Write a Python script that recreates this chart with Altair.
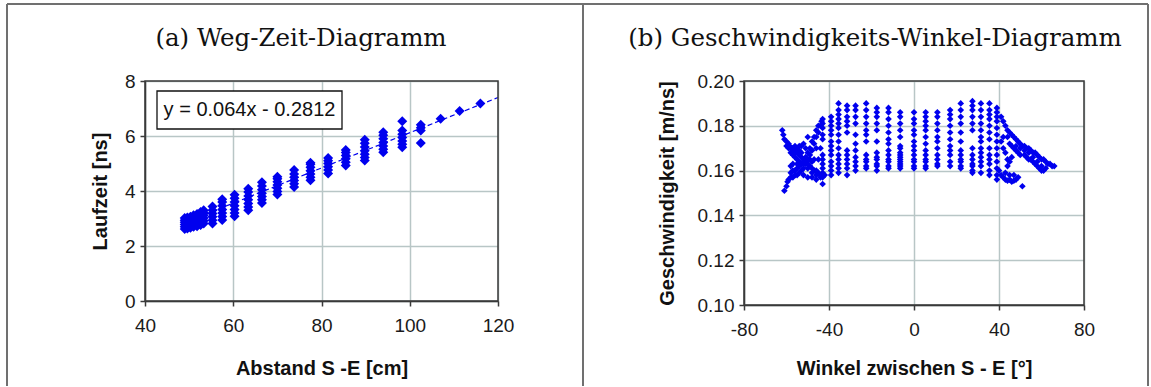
import altair as alt
import pandas as pd

# ---------------- Panel (a): Weg-Zeit-Diagramm ----------------
dist_a = [49.0, 49.6, 50.3, 51.0, 51.8, 52.6, 53.3, 55.3, 57.5, 60.3, 63.4, 66.5,
          70.0, 73.8, 77.5, 81.5, 85.5, 89.8, 94.0, 98.3, 102.5, 107.0, 111.3, 116.0]
times_a = [
    [2.62, 2.70, 2.78, 2.86, 2.94, 3.02],
    [2.64, 2.72, 2.80, 2.88, 2.96, 3.04],
    [2.66, 2.74, 2.82, 2.90, 2.98, 3.06],
    [2.70, 2.78, 2.86, 2.94, 3.02, 3.12],
    [2.72, 2.80, 2.90, 2.98, 3.08, 3.16],
    [2.76, 2.86, 2.96, 3.06, 3.16, 3.24],
    [2.82, 2.92, 3.02, 3.12, 3.22, 3.30],
    [2.82, 2.94, 3.06, 3.18, 3.30, 3.44],
    [2.95, 3.07, 3.20, 3.33, 3.46, 3.60, 3.70],
    [3.08, 3.20, 3.33, 3.46, 3.60, 3.74, 3.86],
    [3.30, 3.42, 3.55, 3.68, 3.82, 3.96, 4.08],
    [3.56, 3.68, 3.80, 3.92, 4.05, 4.18, 4.32],
    [3.87, 3.98, 4.10, 4.22, 4.34, 4.45, 4.52],
    [4.15, 4.26, 4.38, 4.50, 4.62, 4.76],
    [4.39, 4.50, 4.62, 4.74, 4.86, 4.97, 5.03],
    [4.64, 4.76, 4.88, 5.00, 5.10, 5.20],
    [4.93, 5.05, 5.17, 5.29, 5.40, 5.49],
    [5.11, 5.22, 5.34, 5.46, 5.60, 5.74, 5.86],
    [5.41, 5.52, 5.64, 5.76, 5.90, 6.03, 6.14],
    [5.59, 5.70, 5.82, 5.95, 6.06, 6.20, 6.54],
    [5.75, 6.20, 6.30, 6.41],
    [6.63],
    [6.91],
    [7.18],
]
trend_x = [48.5, 120.0]
trend_y = [2.82, 7.40]
equation = "y = 0.064x - 0.2812"

# ---------------- Panel (b): Geschwindigkeits-Winkel-Diagramm ----------------
ang_cols = [-43, -39, -35.5, -31.5, -27.5, -22.5, -17.5, -12, -6.5, 0,
            5.5, 11, 17, 22, 27.5, 31.5, 35.5, 39]
spd_cols = [
    [0.183, 0.181, 0.179, 0.176, 0.174, 0.167, 0.165, 0.163, 0.161, 0.159, 0.157, 0.154],
    [0.184, 0.182, 0.180, 0.178, 0.176, 0.173, 0.171, 0.169, 0.167, 0.164, 0.162, 0.160, 0.158],
    [0.190, 0.187, 0.185, 0.183, 0.181, 0.179, 0.176, 0.173, 0.170, 0.167, 0.165, 0.163, 0.161, 0.159],
    [0.189, 0.187, 0.184, 0.182, 0.180, 0.177, 0.169, 0.167, 0.165, 0.163, 0.161, 0.158],
    [0.189, 0.187, 0.184, 0.181, 0.176, 0.172, 0.169, 0.166, 0.164, 0.162, 0.160],
    [0.190, 0.187, 0.184, 0.181, 0.178, 0.176, 0.173, 0.167, 0.165, 0.164, 0.162, 0.161],
    [0.188, 0.186, 0.184, 0.181, 0.178, 0.173, 0.168, 0.166, 0.165, 0.163, 0.162, 0.160],
    [0.188, 0.186, 0.183, 0.180, 0.177, 0.174, 0.172, 0.169, 0.167, 0.165, 0.164, 0.162, 0.161],
    [0.186, 0.184, 0.181, 0.178, 0.175, 0.171, 0.170, 0.168, 0.167, 0.166, 0.165, 0.164, 0.163, 0.162, 0.161],
    [0.186, 0.183, 0.181, 0.178, 0.176, 0.173, 0.171, 0.169, 0.167, 0.165, 0.164, 0.162, 0.161],
    [0.186, 0.184, 0.182, 0.180, 0.178, 0.175, 0.172, 0.169, 0.167, 0.165, 0.164, 0.162, 0.161],
    [0.186, 0.184, 0.181, 0.178, 0.175, 0.173, 0.170, 0.167, 0.165, 0.163, 0.162],
    [0.187, 0.185, 0.183, 0.180, 0.177, 0.174, 0.171, 0.169, 0.167, 0.164, 0.162],
    [0.190, 0.187, 0.184, 0.181, 0.177, 0.173, 0.169, 0.167, 0.165, 0.164, 0.162, 0.161],
    [0.191, 0.189, 0.187, 0.184, 0.181, 0.178, 0.170, 0.167, 0.165, 0.163, 0.162, 0.160, 0.159],
    [0.190, 0.187, 0.184, 0.181, 0.178, 0.175, 0.173, 0.170, 0.168, 0.166, 0.164, 0.162, 0.159],
    [0.190, 0.187, 0.185, 0.183, 0.180, 0.177, 0.174, 0.170, 0.167, 0.165, 0.163, 0.160, 0.158],
    [0.188, 0.186, 0.184, 0.182, 0.179, 0.176, 0.173, 0.170, 0.167, 0.164, 0.161, 0.158, 0.156],
]
wing_l_ang = [-62, -61.5, -61, -60, -59, -58.5, -58, -57, -56.5, -56, -55, -54, -53, -52, -51, -50,
              -49, -48, -47, -46, -45, -44, -42,
              -60, -59, -58, -57, -56, -55, -54, -52, -50, -48, -46, -44, -56, -55, -54, -53,
              -61, -60, -59.5, -59, -58, -57, -56, -55, -54, -53, -52, -51, -50, -49, -48, -47,
              -46, -45, -44, -43.5,
              -58, -57, -56, -55, -54, -53, -52, -51, -50, -49, -48, -47, -46, -45,
              -52, -50, -48, -46,
              -55, -53, -51, -50, -49, -47, -48, -46, -45, -44, -52, -57, -58, -54]
wing_l_spd = [0.178, 0.176, 0.174, 0.173, 0.172, 0.171, 0.170, 0.170, 0.169, 0.168, 0.168, 0.167,
              0.166, 0.165, 0.164, 0.163, 0.162, 0.161, 0.160, 0.160, 0.159, 0.158, 0.158,
              0.171, 0.170, 0.168, 0.167, 0.166, 0.165, 0.164, 0.163, 0.161, 0.159, 0.158, 0.157,
              0.171, 0.170, 0.169, 0.168,
              0.151, 0.153, 0.155, 0.156, 0.157, 0.157, 0.158, 0.158, 0.159, 0.160, 0.161, 0.163,
              0.165, 0.167, 0.169, 0.172, 0.175, 0.177, 0.180, 0.182,
              0.159, 0.160, 0.160, 0.161, 0.162, 0.163, 0.164, 0.166, 0.168, 0.170, 0.173, 0.175,
              0.178, 0.180,
              0.158, 0.157, 0.157, 0.156,
              0.163, 0.171, 0.170, 0.175, 0.165, 0.165, 0.164, 0.170, 0.165, 0.170, 0.172,
              0.163, 0.162, 0.171]
wing_r_ang = [41, 42, 43, 44, 45, 46, 47, 48, 49, 50, 51, 52, 53, 54, 55, 56, 57, 58, 59, 60,
              61, 62, 63, 64, 65, 66,
              45, 46, 47, 48, 49, 50, 52, 53, 54, 55, 56, 57, 58, 59, 60, 61, 62, 60, 58, 56,
              54, 52, 50, 48,
              40, 41, 42, 43, 44, 45, 46, 47, 48, 49, 47, 45, 43, 51,
              44, 45, 46, 44, 43, 42, 41, 42, 44]
wing_r_spd = [0.184, 0.182, 0.180, 0.178, 0.177, 0.176, 0.175, 0.174, 0.173, 0.172, 0.171, 0.171,
              0.170, 0.170, 0.169, 0.168, 0.168, 0.167, 0.166, 0.165, 0.165, 0.164, 0.163, 0.163,
              0.162, 0.162,
              0.172, 0.171, 0.170, 0.169, 0.168, 0.167, 0.167, 0.166, 0.165, 0.165, 0.164, 0.163,
              0.162, 0.161, 0.160, 0.160, 0.161, 0.162, 0.164, 0.166, 0.168, 0.169, 0.170, 0.171,
              0.160, 0.158, 0.157, 0.156, 0.1555, 0.156, 0.155, 0.1555, 0.156, 0.157, 0.158,
              0.158, 0.159, 0.153,
              0.162, 0.164, 0.166, 0.165, 0.168, 0.170, 0.173, 0.175, 0.175]

# ---------------- build tables ----------------
rows_a = [{"abstand": d, "laufzeit": t} for d, ts in zip(dist_a, times_a) for t in ts]
df_a = pd.DataFrame(rows_a)
df_trend = pd.DataFrame({"abstand": trend_x, "laufzeit": trend_y})

rows_b = [{"winkel": a, "v": s} for a, ss in zip(ang_cols, spd_cols) for s in ss]
rows_b += [{"winkel": a, "v": s} for a, s in zip(wing_l_ang, wing_l_spd)]
rows_b += [{"winkel": a, "v": s} for a, s in zip(wing_r_ang, wing_r_spd)]
df_b = pd.DataFrame(rows_b)

one = pd.DataFrame({"k": [0]})

SANS = "Liberation Sans"
SERIF = "DejaVu Serif"
FRAME = "#3a3a3a"
BORDER = "#707070"
BLUE = "#0000ee"

W_A, H_A = 353, 220
W_B, H_B = 340, 224


def deco_rule(x, x2, y, y2, color=BORDER, width=2):
    return alt.Chart(one).mark_rule(color=color, strokeWidth=width, clip=False).encode(
        x=alt.value(x), x2=alt.value(x2), y=alt.value(y), y2=alt.value(y2))


def deco_text(txt, x, y, font, size, weight="normal", align="center", baseline="alphabetic"):
    return alt.Chart(one).mark_text(text=txt, font=font, fontSize=size, fontWeight=weight,
                                    align=align, baseline=baseline, color="#111111",
                                    clip=False).encode(x=alt.value(x), y=alt.value(y))


def frame_box(w, h):
    return alt.Chart(one).mark_rect(fillOpacity=0, stroke=FRAME, strokeWidth=1.5).encode(
        x=alt.value(0), x2=alt.value(w), y=alt.value(0), y2=alt.value(h))


# ---------------- panel (a) ----------------
xa = alt.X("abstand:Q", scale=alt.Scale(domain=[40, 120], nice=False, zero=False),
           axis=alt.Axis(values=[40, 60, 80, 100, 120], title="Abstand S -E [cm]",
                         titleY=67, titleBaseline="middle", labelExpr="'' + datum.value"))
ya = alt.Y("laufzeit:Q", scale=alt.Scale(domain=[0, 8], nice=False),
           axis=alt.Axis(values=[0, 2, 4, 6, 8], title="Laufzeit [ns]",
                         titleX=-45, titleBaseline="middle", labelExpr="'' + datum.value"))

pts_a = alt.Chart(df_a).mark_point(shape="diamond", filled=True, size=100, color=BLUE,
                                   opacity=1).encode(x=xa, y=ya)
line_a = alt.Chart(df_trend).mark_line(color=BLUE, strokeWidth=1.2, strokeDash=[5, 3]).encode(
    x="abstand:Q", y="laufzeit:Q")
eq_box = alt.Chart(one).mark_rect(fill="white", stroke="#111111", strokeWidth=1.3).encode(
    x=alt.value(12), x2=alt.value(197), y=alt.value(10), y2=alt.value(48))
eq_txt = deco_text(equation, 104.5, 29, SANS, 20, baseline="middle")
title_a = deco_text("(a) Weg-Zeit-Diagramm", 156, -35, SERIF, 24.5)

# outer table frame (drawn relative to panel (a) plot area at x=145, y=81)
top_line = deco_rule(-138, 1003, -77, -77)
left_line = deco_rule(-138, -138, -77, 305)
mid_line = deco_rule(438, 438, -77, 305)
right_line = deco_rule(1003, 1003, -77, 305)

left = alt.layer(pts_a, line_a, frame_box(W_A, H_A), eq_box, eq_txt, title_a,
                 top_line, left_line, mid_line, right_line).properties(width=W_A, height=H_A)

# ---------------- panel (b) ----------------
xb = alt.X("winkel:Q", scale=alt.Scale(domain=[-80, 80], nice=False, zero=False),
           axis=alt.Axis(values=[-80, -40, 0, 40, 80], title="Winkel zwischen S - E [°]",
                         titleY=63, titleBaseline="middle", labelExpr="'' + datum.value"))
yb = alt.Y("v:Q", scale=alt.Scale(domain=[0.10, 0.20], nice=False, zero=False),
           axis=alt.Axis(values=[0.10, 0.12, 0.14, 0.16, 0.18, 0.20], title="Geschwindigkeit [m/ns]",
                         titleX=-77, titleBaseline="middle", format=".2f"))

pts_b = alt.Chart(df_b).mark_point(shape="diamond", filled=True, size=44, color=BLUE,
                                   opacity=1).encode(x=xb, y=yb)
title_b = deco_text("(b) Geschwindigkeits-Winkel-Diagramm", 131, -35, SERIF, 24.5)

right = alt.layer(pts_b, frame_box(W_B, H_B), title_b).properties(width=W_B, height=H_B)

chart = alt.hconcat(left, right, spacing=246, bounds="flush").properties(
    padding={"left": 6, "top": 3, "right": 0, "bottom": 0},
    background="white",
).configure_view(stroke=None).configure_axis(
    domainColor=FRAME, domainWidth=1.5, tickColor=FRAME, tickWidth=1.5, tickSize=5,
    gridColor="#b8c6c6", gridWidth=1.5, labelFlush=False, labelOverlap=False,
    labelFont=SANS, labelFontSize=19, labelColor="#1a1a1a",
    titleFont=SANS, titleFontSize=20, titleFontWeight="bold", titleColor="#111111",
).configure_axisX(labelPadding=10).configure_axisY(labelPadding=5)

chart.save("out.html", embed_options={"renderer": "svg", "actions": False})
